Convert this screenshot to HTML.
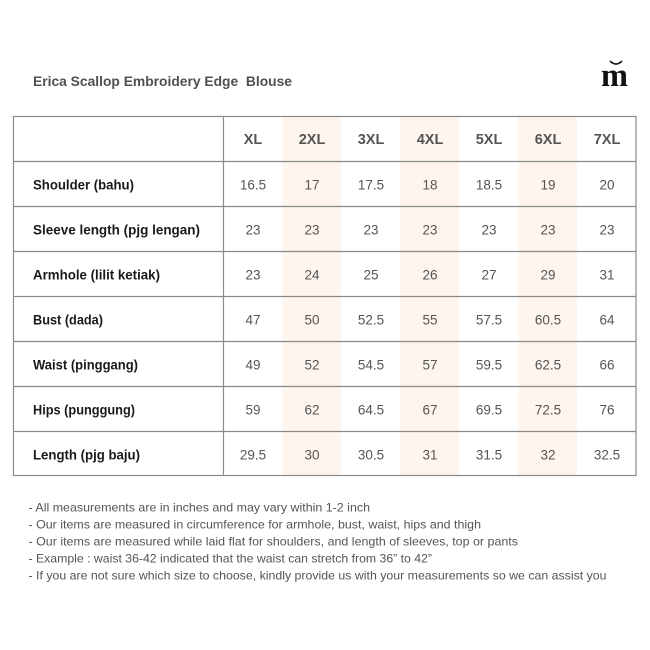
<!DOCTYPE html>
<html><head><meta charset="utf-8"><style>
html,body{margin:0;padding:0;background:#fff;width:650px;height:650px;overflow:hidden}
svg{display:block}
.t{font-family:"Liberation Sans",Arial,sans-serif}
</style></head><body>
<svg width="650" height="650" viewBox="0 0 650 650" xmlns="http://www.w3.org/2000/svg">
<rect width="650" height="650" fill="#fff"/>
<!-- title -->
<text class="t" x="33" y="86" font-size="14" font-weight="bold" fill="#505050" xml:space="preserve" textLength="259" lengthAdjust="spacingAndGlyphs">Erica Scallop Embroidery Edge&#160; Blouse</text>
<!-- logo -->
<text x="601" y="86" font-family="Liberation Serif,serif" font-size="33" font-weight="bold" fill="#111" textLength="27" lengthAdjust="spacingAndGlyphs">m</text>
<path d="M610 61 Q616 67 622 61" stroke="#111" stroke-width="1.6" fill="none"/>
<!-- shaded columns -->
<rect x="282" y="117" width="59" height="358" fill="#fdf5ee"/>
<rect x="400" y="117" width="59" height="358" fill="#fdf5ee"/>
<rect x="518" y="117" width="59" height="358" fill="#fdf5ee"/>
<!-- grid -->
<g stroke="#8a8a8a" stroke-width="1.2" fill="none">
<rect x="13.5" y="116.5" width="622.5" height="359"/>
<line x1="223.5" y1="116.5" x2="223.5" y2="475.5"/>
<line x1="13.5" y1="161.5" x2="636" y2="161.5"/>
<line x1="13.5" y1="206.5" x2="636" y2="206.5"/>
<line x1="13.5" y1="251.5" x2="636" y2="251.5"/>
<line x1="13.5" y1="296.5" x2="636" y2="296.5"/>
<line x1="13.5" y1="341.5" x2="636" y2="341.5"/>
<line x1="13.5" y1="386.5" x2="636" y2="386.5"/>
<line x1="13.5" y1="431.5" x2="636" y2="431.5"/>
</g>
<!-- header -->
<g class="t" font-size="14.5" font-weight="bold" fill="#555" text-anchor="middle">
<text x="253" y="144">XL</text>
<text x="312" y="144">2XL</text>
<text x="371" y="144">3XL</text>
<text x="430" y="144">4XL</text>
<text x="489" y="144">5XL</text>
<text x="548" y="144">6XL</text>
<text x="607" y="144">7XL</text>
</g>
<!-- row labels -->
<g class="t" font-size="14" font-weight="bold" fill="#1a1a1a">
<text x="33" y="189.5" textLength="101" lengthAdjust="spacingAndGlyphs">Shoulder (bahu)</text>
<text x="33" y="234.5" textLength="167" lengthAdjust="spacingAndGlyphs">Sleeve length (pjg lengan)</text>
<text x="33" y="279.5" textLength="127" lengthAdjust="spacingAndGlyphs">Armhole (lilit ketiak)</text>
<text x="33" y="324.5" textLength="70" lengthAdjust="spacingAndGlyphs">Bust (dada)</text>
<text x="33" y="369.5" textLength="105" lengthAdjust="spacingAndGlyphs">Waist (pinggang)</text>
<text x="33" y="414.5" textLength="102" lengthAdjust="spacingAndGlyphs">Hips (punggung)</text>
<text x="33" y="459.5" textLength="107" lengthAdjust="spacingAndGlyphs">Length (pjg baju)</text>
</g>
<!-- values -->
<g class="t" font-size="13.5" fill="#555" text-anchor="middle">
<text x="253" y="189.5">16.5</text><text x="312" y="189.5">17</text><text x="371" y="189.5">17.5</text><text x="430" y="189.5">18</text><text x="489" y="189.5">18.5</text><text x="548" y="189.5">19</text><text x="607" y="189.5">20</text>
<text x="253" y="234.5">23</text><text x="312" y="234.5">23</text><text x="371" y="234.5">23</text><text x="430" y="234.5">23</text><text x="489" y="234.5">23</text><text x="548" y="234.5">23</text><text x="607" y="234.5">23</text>
<text x="253" y="279.5">23</text><text x="312" y="279.5">24</text><text x="371" y="279.5">25</text><text x="430" y="279.5">26</text><text x="489" y="279.5">27</text><text x="548" y="279.5">29</text><text x="607" y="279.5">31</text>
<text x="253" y="324.5">47</text><text x="312" y="324.5">50</text><text x="371" y="324.5">52.5</text><text x="430" y="324.5">55</text><text x="489" y="324.5">57.5</text><text x="548" y="324.5">60.5</text><text x="607" y="324.5">64</text>
<text x="253" y="369.5">49</text><text x="312" y="369.5">52</text><text x="371" y="369.5">54.5</text><text x="430" y="369.5">57</text><text x="489" y="369.5">59.5</text><text x="548" y="369.5">62.5</text><text x="607" y="369.5">66</text>
<text x="253" y="414.5">59</text><text x="312" y="414.5">62</text><text x="371" y="414.5">64.5</text><text x="430" y="414.5">67</text><text x="489" y="414.5">69.5</text><text x="548" y="414.5">72.5</text><text x="607" y="414.5">76</text>
<text x="253" y="459.5">29.5</text><text x="312" y="459.5">30</text><text x="371" y="459.5">30.5</text><text x="430" y="459.5">31</text><text x="489" y="459.5">31.5</text><text x="548" y="459.5">32</text><text x="607" y="459.5">32.5</text>
</g>
<!-- notes -->
<g class="t" font-size="12" fill="#555">
<text x="28.5" y="511.5" textLength="341.5" lengthAdjust="spacingAndGlyphs">- All measurements are in inches and may vary within 1-2 inch</text>
<text x="28.5" y="528.5" textLength="452.5" lengthAdjust="spacingAndGlyphs">- Our items are measured in circumference for armhole, bust, waist, hips and thigh</text>
<text x="28.5" y="545.5" textLength="489.5" lengthAdjust="spacingAndGlyphs">- Our items are measured while laid flat for shoulders, and length of sleeves, top or pants</text>
<text x="28.5" y="562.5" textLength="403.5" lengthAdjust="spacingAndGlyphs">- Example : waist 36-42 indicated that the waist can stretch from 36” to 42”</text>
<text x="28.5" y="579.5" textLength="578" lengthAdjust="spacingAndGlyphs">- If you are not sure which size to choose, kindly provide us with your measurements so we can assist you</text>
</g>
</svg>
</body></html>
